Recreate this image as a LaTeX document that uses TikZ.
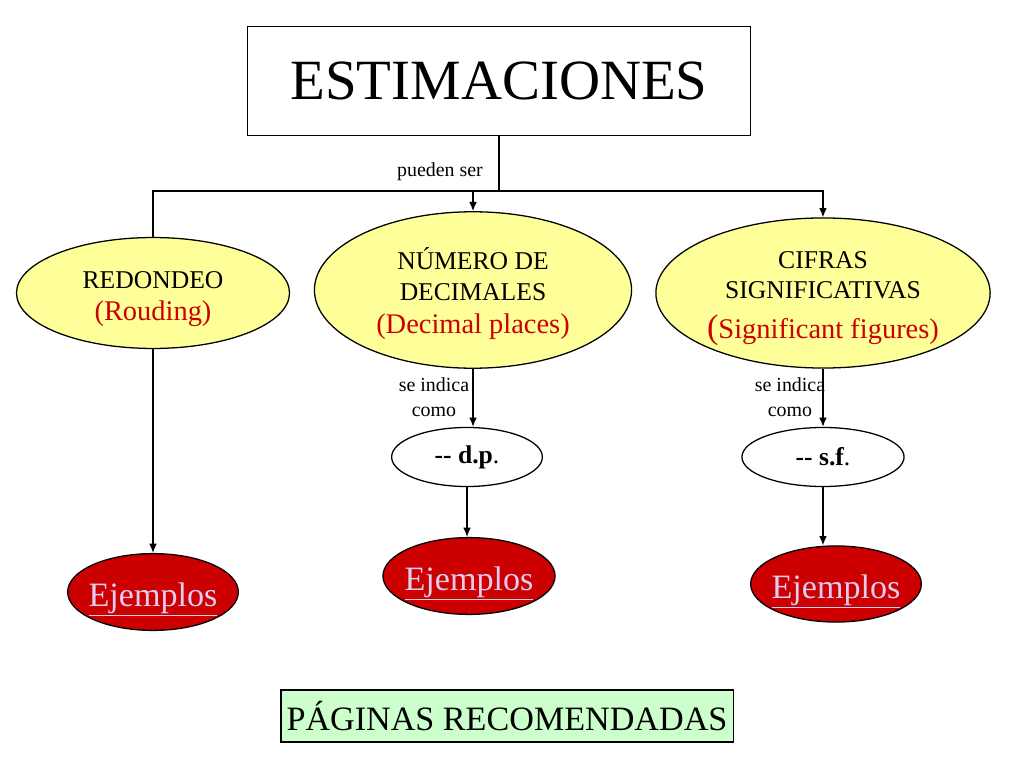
\documentclass[tikz,border=0pt]{standalone}
\usepackage{fontspec}
\setmainfont{Liberation Serif}
\usepackage{tikz}
\usetikzlibrary{arrows,arrows.meta,shapes,positioning,calc}
\definecolor{amarillo}{RGB}{255,255,153}
\definecolor{rojo}{RGB}{204,0,0}
\definecolor{verde}{RGB}{204,255,204}
\definecolor{rosa}{RGB}{226,204,240}
\newcommand{\tam}[2]{\fontsize{#1}{#2}\selectfont}
\newcommand{\alto}[1]{\rule{0pt}{#1}}
\tikzset{
caja/.style={draw,line width=0.9pt,rectangle,inner sep=0pt,fill=white},
elipse/.style={draw,line width=0.9pt,ellipse,fill=amarillo,inner sep=0pt,align=center,font=\tam{18}{21.5}},
nota/.style={draw,line width=0.9pt,ellipse,fill=white,inner sep=0pt,font=\tam{18}{21}},
ejemplo/.style={draw,line width=0.9pt,ellipse,fill=rojo,inner xsep=-3pt,inner ysep=0pt,text=rosa,font=\tam{24}{28}},
texto/.style={font=\tam{14}{17.5},align=center,inner sep=0pt},
linea/.style={line width=1pt}
}

\begin{document}
\begin{tikzpicture}[x=0.703125pt,y=-0.703125pt,>={Latex[length=6.5pt,width=5.5pt]}]
\useasboundingbox (0,0) rectangle (1024,768);
\node[caja,minimum width=354pt,minimum height=77pt,font=\tam{40}{46}] (titulo) at (499,81) {ESTIMACIONES};
\node[elipse,minimum width=192pt,minimum height=78pt] (redondeo) at (153,293)
 {\alto{20.5pt}REDONDEO\\[1pt]\textcolor{rojo}{\tam{20}{24}(Rouding)}};
\node[elipse,minimum width=223pt,minimum height=110pt] (numero) at (473,290)
 {\alto{20.5pt}NÚMERO DE\\DECIMALES\\[1.5pt]\textcolor{rojo}{\tam{20}{24}(Decimal places)}};
\node[elipse,minimum width=235pt,minimum height=103pt] (cifras) at (823,293)
 {\alto{20pt}CIFRAS\\SIGNIFICATIVAS\\[6.5pt]\textcolor{rojo}{\tam{20}{24}{\tam{24}{28}(}Significant figures)}};
\node[nota,minimum width=106pt,minimum height=41.5pt] (dp) at (467,457) {\textbf{-{}- d.p}.};
\node[nota,minimum width=114pt,minimum height=41.5pt] (sf) at (823,457) {\textbf{-{}- s.f}.};
\node[ejemplo,minimum width=120pt,minimum height=54pt] (ej1) at (153,592) {\alto{27.5pt}\underline{Ejemplos}};
\node[ejemplo,minimum width=121pt,minimum height=54pt] (ej2) at (469,576) {\alto{27.5pt}\underline{Ejemplos}};
\node[ejemplo,minimum width=120pt,minimum height=53.5pt] (ej3) at (836,584) {\alto{27.5pt}\underline{Ejemplos}};
\node[caja,fill=verde,minimum width=318pt,minimum height=36.6pt,font=\tam{24}{28}] (paginas) at (507,716) {PÁGINAS RECOMENDADAS};
\node[texto] (pueden) at (440,172) {pueden ser};
\node[texto] (indica1) at (434,397) {se indica\\como};
\node[texto] (indica2) at (790,397) {se indica\\como};
\coordinate (cruce) at (499,191);
\coordinate (izq) at (153,191);
\coordinate (der) at (824,191);
\draw[linea] (titulo.south) -- (cruce);
\draw[linea] (redondeo.north) -- (izq) -- (der);
\draw[linea,->] (numero.north |- cruce) -- (numero.north);
\draw[linea,->] (cifras.north |- cruce) -- (cifras.north);
\draw[linea,->] (redondeo.south) -- (ej1.north);
\draw[linea,->] (numero.south) -- (numero.south |- dp.north);
\draw[linea,->] (dp.south) -- (dp.south |- ej2.north);
\draw[linea,->] (cifras.south) -- (cifras.south |- sf.north);
\draw[linea,->] (sf.south) -- (sf.south |- ej3.north);
\end{tikzpicture}
\end{document}
